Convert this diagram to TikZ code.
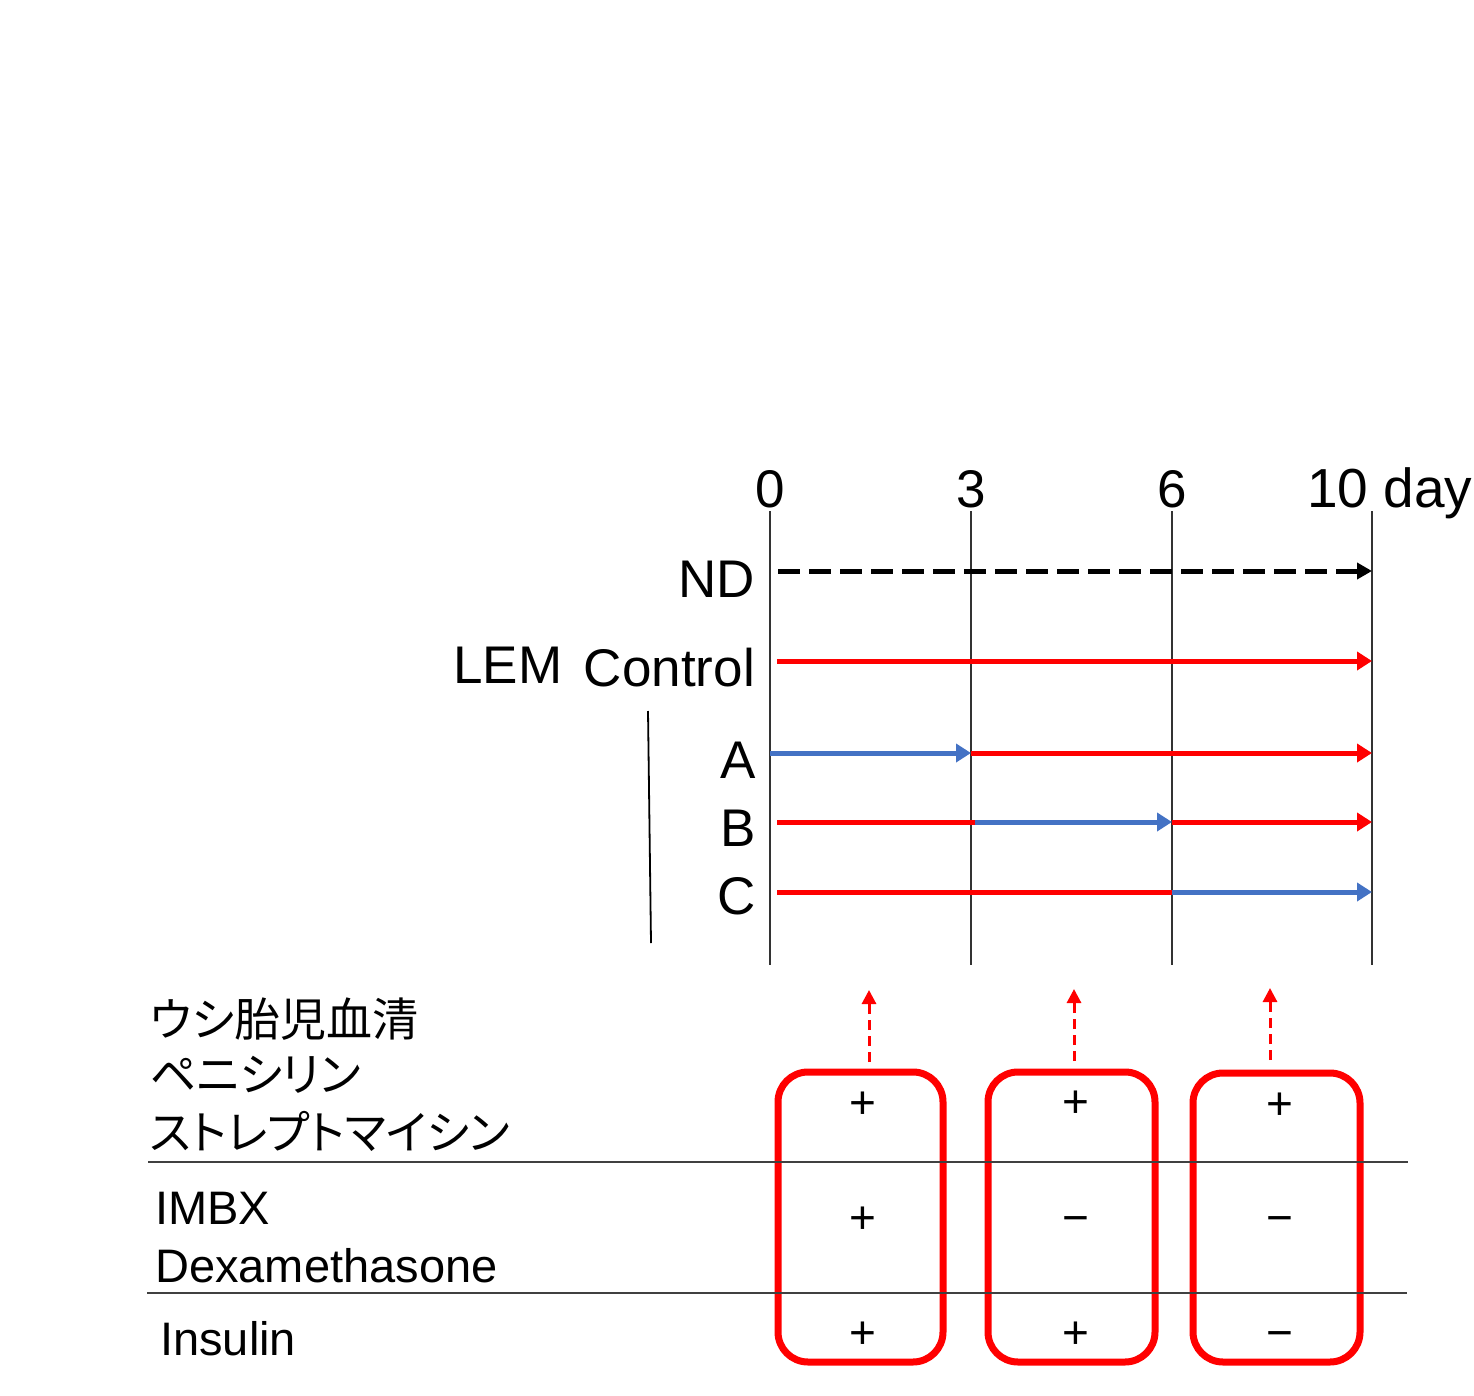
\documentclass[tikz,border=0pt]{standalone}
\usepackage{fontspec}
\setmainfont{Liberation Sans}
\newfontfamily\jpfont[RawFeature=+palt]{Noto Sans CJK JP}
\usetikzlibrary{arrows.meta}
\definecolor{myred}{HTML}{FF0000}
\definecolor{myblue}{HTML}{4472C4}
\tikzset{
  big/.style={font=\fontsize{53}{60}\selectfont, inner sep=0pt},
  mid/.style={font=\fontsize{47}{54}\selectfont, inner sep=0pt, anchor=base west},
  jp/.style={font=\jpfont\fontsize{46}{54}\selectfont, inner sep=0pt, anchor=base west},
  sign/.style={font=\fontsize{46}{50}\selectfont, inner sep=0pt},
  tick/.style={line width=1.5pt, draw=black!80},
  sep/.style={line width=1.3pt, draw=black!75},
  redarr/.style={line width=5pt, draw=myred, -{Triangle[length=15pt,width=18pt]}},
  bluearr/.style={line width=5pt, draw=myblue, -{Triangle[length=15pt,width=18pt]}},
  redseg/.style={line width=5pt, draw=myred},
  ndarr/.style={line width=5pt, draw=black, dash pattern=on 22pt off 9pt, -{Triangle[length=15pt,width=16pt]}},
  upsarr/.style={line width=3pt, draw=myred, dash pattern=on 10pt off 6pt, -{Triangle[length=14pt,width=14pt]}},
  medbox/.style={draw=myred, line width=7pt, rounded corners=30pt, inner sep=0pt},
}
\newcommand{\mysign}[1]{\vphantom{+}#1}
\begin{document}
\begin{tikzpicture}[x=1pt,y=-1pt]
\useasboundingbox (0,0) rectangle (1474,1396);
\clip (0,0) rectangle (1474,1396);

% time axis labels
\node[big, anchor=base] (l0) at (770,507) {0};
\node[big, anchor=base] (l3) at (971,507) {3};
\node[big, anchor=base] (l6) at (1172,507) {6};
\node[big, anchor=base west, font=\fontsize{55}{60}\selectfont] (l10) at (1307,507) {10 day};

% vertical tick lines
\foreach \n/\x in {a/770,b/971,c/1172,d/1372}{
  \coordinate (top\n) at (\x,511);
  \coordinate (bot\n) at (\x,965);
  \draw[tick] (top\n) -- (bot\n);
}

% row labels
\node[big, anchor=base east] (nd) at (755,597) {ND};
\node[big, anchor=base west] (lem) at (453,683) {LEM};
\node[big, anchor=base east] (ctrl) at (755,686) {Control};
\node[big, anchor=base east] (la) at (756,778) {A};
\node[big, anchor=base east] (lb) at (756,846) {B};
\node[big, anchor=base east] (lc) at (756,914) {C};

% bracket line
\coordinate (br1) at (648,711);
\coordinate (br2) at (651,943);
\draw[line width=1.8pt] (br1) -- (br2);

% ND
\coordinate (nd0) at (778,571);
\coordinate (nd1) at (1372,571);
\draw[ndarr] (nd0) -- (nd1);

% Control
\coordinate (c0) at (777,661);
\coordinate (c1) at (1372,661);
\draw[redarr] (c0) -- (c1);

% A
\coordinate (a0) at (770,753);
\coordinate (a3) at (971,753);
\coordinate (a10) at (1372,753);
\draw[redarr] (a3) -- (a10);
\draw[bluearr] (a0) -- (a3);

% B
\coordinate (b0) at (777,822);
\coordinate (b3) at (975,822);
\coordinate (b6) at (1172,822);
\coordinate (b10) at (1372,822);
\draw[redseg] (b0) -- (b3);
\draw[redarr] (b6) -- (b10);
\draw[bluearr] (b3) -- (b6);

% C
\coordinate (cc0) at (777,892);
\coordinate (cc6) at (1172,892);
\coordinate (cc10) at (1372,892);
\draw[redseg] (cc0) -- (cc6);
\draw[bluearr] (cc6) -- (cc10);

% medium boxes
\node[medbox, minimum width=165pt, minimum height=290pt] (m1) at (860.5,1217) {};
\node[medbox, minimum width=167pt, minimum height=290pt] (m2) at (1071.5,1217) {};
\node[medbox, minimum width=167pt, minimum height=289pt] (m3) at (1276.5,1217.5) {};

% dashed up arrows
\coordinate (u1s) at (869,1062);
\coordinate (u1e) at (869,990);
\coordinate (u2s) at (1074,1061);
\coordinate (u2e) at (1074,989);
\coordinate (u3s) at (1270,1060);
\coordinate (u3e) at (1270,988);
\draw[upsarr] (u1s) -- (u1e);
\draw[upsarr] (u2s) -- (u2e);
\draw[upsarr] (u3s) -- (u3e);

% separators
\coordinate (s1a) at (148,1162);
\coordinate (s1b) at (1408,1162);
\coordinate (s2a) at (147,1293);
\coordinate (s2b) at (1407,1293);
\draw[sep] (s1a) -- (s1b);
\draw[sep] (s2a) -- (s2b);

% left labels
\node[jp] (j1) at (150,1036) {ウシ胎児血清};
\node[jp] (j2) at (150,1091) {ペニシリン};
\node[jp] (j3) at (150,1149) {ストレプトマイシン};
\node[mid] (imbx) at (155,1224) {IMBX};
\node[mid] (dex) at (155,1282) {Dexamethasone};
\node[mid] (ins) at (160,1355) {Insulin};

% signs
\node[sign] (p11) at (863,1105) {\mysign{+}};
\node[sign] (p12) at (1076,1104) {\mysign{+}};
\node[sign] (p13) at (1280,1106) {\mysign{+}};
\node[sign] (p21) at (863,1220) {\mysign{+}};
\node[sign] (p22) at (1076,1220) {\mysign{−}};
\node[sign] (p23) at (1280,1220) {\mysign{−}};
\node[sign] (p31) at (863,1335) {\mysign{+}};
\node[sign] (p32) at (1076,1335) {\mysign{+}};
\node[sign] (p33) at (1280,1335) {\mysign{−}};
\end{tikzpicture}
\end{document}
